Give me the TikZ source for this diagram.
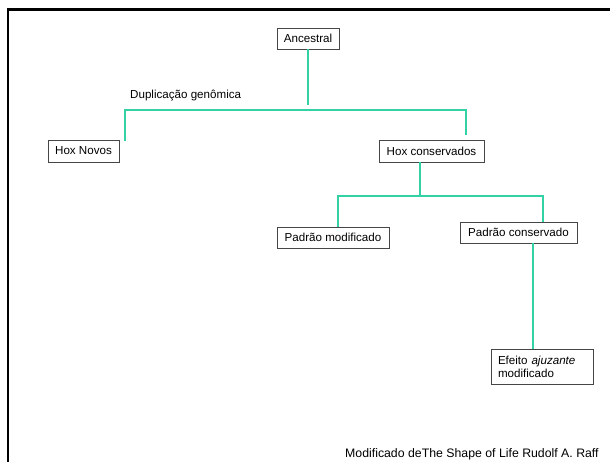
\documentclass[tikz,border=0pt]{standalone}
\usepackage{fontspec}
\setmainfont{Liberation Sans}
\definecolor{linkc}{RGB}{50,210,165}
\definecolor{boxc}{RGB}{70,70,70}
\tikzset{
  box/.style={draw=boxc, line width=0.9pt, fill=white, inner sep=0pt, font=\fontsize{11.6}{13}\selectfont},
  link/.style={draw=linkc, line width=1.15pt},
  lbl/.style={inner sep=0pt, font=\fontsize{11.6}{13}\selectfont},
}
\begin{document}
\begin{tikzpicture}[x=1pt,y=-1pt]
\useasboundingbox (0,0) rectangle (610,461);
\fill[white] (0,0) rectangle (610,461);
% outer frame
\draw[black, line width=2.4pt] (8,470) -- (8,9.5) -- (620,9.5);

% nodes
\node[box, minimum width=62pt, minimum height=21pt] (anc) at (308,38.5) {Ancestral};
\node[box, minimum width=71pt, minimum height=22pt] (hoxn) at (83.5,151) {Hox Novos};
\node[box, minimum width=105pt, minimum height=22pt] (hoxc) at (431.5,151) {Hox conservados};
\node[box, minimum width=112pt, minimum height=21pt] (pm) at (333,237.5) {Padrão modificado};
\node[box, minimum width=117pt, minimum height=21pt] (pc) at (518.5,232.5) {Padrão conservado};
\node[box, minimum width=102pt, minimum height=35pt, text width=88pt, inner xsep=7pt, align=left] (ef) at (542,366.5) {Efeito \textit{ajuzante}\\modificado};

\node[lbl, anchor=west] (dup) at (130,96) {Duplicação genômica};
\node[lbl, anchor=base west, font=\fontsize{12.3}{14}\selectfont] (src) at (345,457.5) {Modificado deThe Shape of Life Rudolf A. Raff};

% junction coordinates
\coordinate (a1) at (308,105);
\coordinate (hl) at (125,110);
\coordinate (hr) at (466,110);
\coordinate (hlb) at (125,141);
\coordinate (hrb) at (466,135);
\coordinate (c0) at (420,162);
\coordinate (c1) at (420,196);
\coordinate (cl) at (338,196);
\coordinate (cr) at (543,196);
\coordinate (clb) at (338,227);
\coordinate (crb) at (543,222);
\coordinate (p0) at (533,243);
\coordinate (p1) at (533,349);

% connectors
\draw[link] (anc.south) -- (a1);
\draw[link] (hlb) -- (hl) -- (hr) -- (hrb);
\draw[link] (c0) -- (c1);
\draw[link] (clb) -- (cl) -- (cr) -- (crb);
\draw[link] (p0) -- (p1);
\end{tikzpicture}
\end{document}
